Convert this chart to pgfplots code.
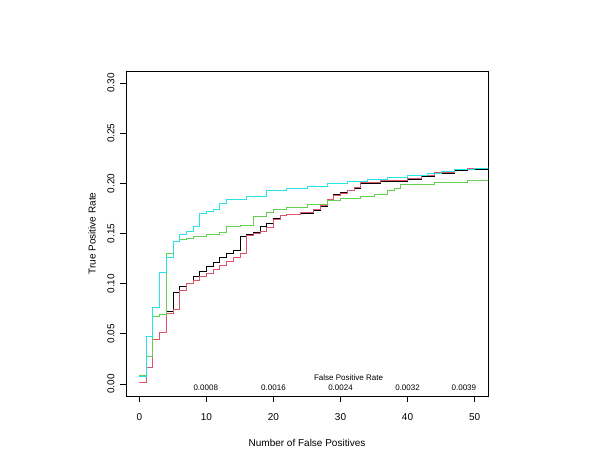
\documentclass[border=0pt]{standalone}
\usepackage{fontspec}
\setmainfont{Liberation Sans}
\usepackage{pgfplots}
\pgfplotsset{compat=1.18}
\definecolor{rred}{HTML}{DF536B}
\definecolor{rgreen}{HTML}{61D04F}
\definecolor{rcyan}{HTML}{28E2E5}
\begin{document}
\begin{tikzpicture}
\useasboundingbox (0,0) rectangle (600bp,450bp);
\begin{axis}[
  at={(126bp,54bp)}, anchor=south west,
  scale only axis, width=362bp, height=325bp,
  xmin=-2, xmax=52, ymin=-0.012, ymax=0.312,
  xtick={0,10,20,30,40,50}, xticklabels={0,10,20,30,40,50},
  ytick={0,0.05,0.1,0.15,0.2,0.25,0.3},
  yticklabels={0.00,0.05,0.10,0.15,0.20,0.25,0.30},
  tick pos=left, tick align=outside, major tick length=6bp,
  tick style={black, line width=0.8bp},
  axis line style={black, line width=0.8bp},
  ticklabel style={font=\fontsize{10bp}{12bp}\selectfont},
  yticklabel style={rotate=90, anchor=south},
  xticklabel style={anchor=north},
  xticklabel shift=7.5bp, yticklabel shift=2bp,
  label style={font=\fontsize{10bp}{12bp}\selectfont},
  xlabel={Number of False Positives},
  ylabel={True Positive Rate},
  xlabel style={at={(axis description cs:0.5,-0.145)}, anchor=center},
  ylabel style={at={(axis description cs:-0.094,0.5)}, anchor=center},
  every axis plot/.append style={const plot, mark=none, line width=0.85bp},
]
\addplot[black] coordinates {
(0,0.002)(1,0.016)(2,0.044)(3,0.051)(4,0.072)(5,0.091)(6,0.097)(7,0.100)(8,0.107)(9,0.112)(10,0.117)(11,0.121)(12,0.126)(13,0.130)(14,0.133)(15,0.147)(16,0.149)(17,0.151)(18,0.157)(19,0.160)(20,0.165)(21,0.168)(22,0.169)(24,0.170)(26,0.173)(27,0.177)(28,0.183)(29,0.189)(30,0.191)(31,0.193)(32,0.195)(33,0.200)(36,0.202)(40,0.204)(42,0.207)(44,0.210)(47,0.213)(49,0.214)(52,0.214)};
\addplot[rred] coordinates {
(0,0.002)(1,0.016)(2,0.044)(3,0.051)(4,0.070)(5,0.074)(6,0.093)(7,0.100)(8,0.103)(9,0.107)(10,0.110)(11,0.114)(12,0.118)(13,0.122)(14,0.126)(15,0.130)(16,0.148)(17,0.150)(18,0.152)(19,0.156)(20,0.164)(21,0.168)(22,0.169)(24,0.171)(26,0.174)(27,0.178)(28,0.184)(29,0.188)(30,0.190)(31,0.193)(32,0.196)(33,0.201)(36,0.203)(40,0.205)(42,0.208)(44,0.211)(47,0.214)(49,0.215)(52,0.216)};
\addplot[rgreen] coordinates {
(0,0.009)(1,0.027)(2,0.067)(3,0.069)(4,0.130)(5,0.142)(6,0.144)(7,0.145)(8,0.147)(10,0.149)(12,0.151)(13,0.157)(15,0.158)(17,0.167)(19,0.171)(20,0.174)(22,0.176)(25,0.179)(28,0.183)(30,0.185)(33,0.187)(35,0.189)(37,0.193)(38,0.195)(39,0.199)(44,0.201)(49,0.203)(52,0.204)};
\addplot[rcyan] coordinates {
(0,0.008)(1,0.047)(2,0.076)(3,0.111)(4,0.126)(5,0.142)(6,0.149)(7,0.152)(8,0.157)(9,0.170)(10,0.172)(11,0.174)(12,0.180)(13,0.184)(16,0.187)(19,0.193)(22,0.195)(25,0.197)(28,0.200)(31,0.202)(34,0.204)(37,0.206)(40,0.208)(43,0.210)(45,0.212)(47,0.214)(50,0.215)(52,0.216)};
\node[font=\fontsize{8bp}{9.6bp}\selectfont] at (axis cs:31.2,0.0067) {False Positive Rate};
\node[font=\fontsize{8bp}{9.6bp}\selectfont] at (axis cs:9.9,-0.0033) {0.0008};
\node[font=\fontsize{8bp}{9.6bp}\selectfont] at (axis cs:20,-0.0033) {0.0016};
\node[font=\fontsize{8bp}{9.6bp}\selectfont] at (axis cs:30,-0.0033) {0.0024};
\node[font=\fontsize{8bp}{9.6bp}\selectfont] at (axis cs:40,-0.0033) {0.0032};
\node[font=\fontsize{8bp}{9.6bp}\selectfont] at (axis cs:48.4,-0.0033) {0.0039};
\end{axis}
\end{tikzpicture}
\end{document}
